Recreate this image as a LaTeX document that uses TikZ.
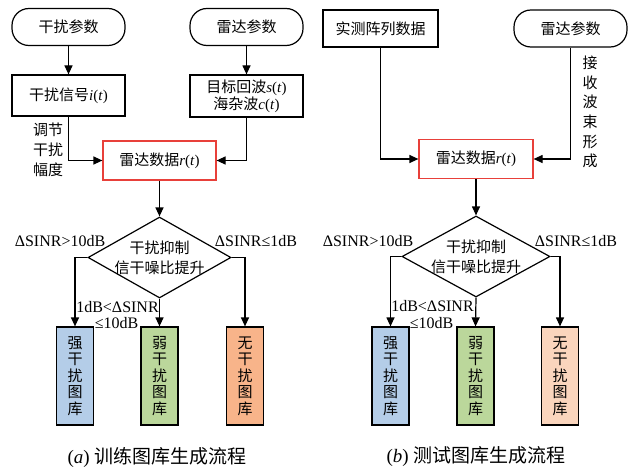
\documentclass[tikz,border=0pt]{standalone}
\usepackage{fontspec}
\setmainfont{Liberation Serif}
\newfontfamily\cjk{Noto Sans CJK SC}
\usetikzlibrary{shapes.geometric,arrows.meta}
\definecolor{cblue}{HTML}{B4CDE8}
\definecolor{cgreen}{HTML}{BBD79B}
\definecolor{corangeA}{HTML}{F8B48A}
\definecolor{corangeB}{HTML}{FAD5BD}
\definecolor{cred}{HTML}{E8403A}
\newcommand\zh[1]{{\cjk #1}}
\tikzset{
  base/.style={font=\fontsize{15}{18}\selectfont, inner sep=0pt, align=center},
  stadium/.style={base, draw, line width=1.2pt, rounded corners=17pt, minimum width=113pt, minimum height=37pt},
  plainbox/.style={base, draw, line width=1.2pt, minimum width=113pt, minimum height=40pt},
  redbox/.style={base, draw=cred, line width=1.2pt, minimum width=113pt, minimum height=39pt},
  libbox/.style={font=\fontsize{15}{16.5}\selectfont, inner sep=0pt, align=center, draw, line width=1.2pt, minimum width=37pt, minimum height=98pt},
  dia/.style={diamond, draw, line width=1.2pt, inner sep=0pt, minimum width=143pt, minimum height=81pt},
  lab/.style={font=\fontsize{15}{20}\selectfont, inner sep=0pt, align=center},
  latlab/.style={font=\fontsize{16}{20}\selectfont, inner sep=0pt, align=center},
  captext/.style={font=\fontsize{19}{22}\selectfont, inner sep=0pt},
  arr/.style={line width=1.2pt, -{Triangle[length=9pt,width=8pt]}},
  ln/.style={line width=1.2pt}
}
\begin{document}
\begin{tikzpicture}[x=1pt,y=-1pt]
\useasboundingbox (0,0) rectangle (631,468);
% ---------- (a) ----------
\node[stadium] (pa1) at (68.5,27) {\zh{干扰参数}};
\node[stadium] (pa2) at (246.5,27) {\zh{雷达参数}};
\node[plainbox, minimum height=41pt] (sa1) at (68.5,95.5) {\zh{干扰信号}\textit{i}(\textit{t})};
\node[plainbox, minimum height=42pt] (sa2) at (246.5,96) {\zh{目标回波}\textit{s}(\textit{t})\\[-1pt]\zh{海杂波}\textit{c}(\textit{t})};
\node[redbox] (ra) at (159.5,160.5) {\zh{雷达数据}\textit{r}(\textit{t})};
\node[dia] (da) at (159.5,257.5) {};
\node[lab] (dta) at (159.5,258) {\zh{干扰抑制}\\\zh{信干噪比提升}};
\node[libbox, fill=cblue] (ba) at (75,376) {\zh{强}\\\zh{干}\\\zh{扰}\\\zh{图}\\\zh{库}};
\node[libbox, fill=cgreen] (ga) at (159.5,376) {\zh{弱}\\\zh{干}\\\zh{扰}\\\zh{图}\\\zh{库}};
\node[libbox, fill=corangeA] (oa) at (245,376) {\zh{无}\\\zh{干}\\\zh{扰}\\\zh{图}\\\zh{库}};
\node[lab] (la1) at (48,150) {\zh{调节}\\\zh{干扰}\\\zh{幅度}};
\node[latlab] (la2) at (60,241) {ΔSINR>10dB};
\node[latlab] (la3) at (256,241) {ΔSINR≤1dB};
\node[latlab] (la4) at (117.5,307) {1dB<ΔSINR};
\node[latlab] (la5) at (116.5,323) {≤10dB};
\node[captext] (capa) at (157,457) {(\textit{a}) \zh{训练图库生成流程}};
\draw[arr] (pa1.south) -- (sa1.north);
\draw[arr] (pa2.south) -- (sa2.north);
\draw[arr] (sa1.south) |- (ra.west);
\draw[arr] (sa2.south) |- (ra.east);
\draw[arr] (ra.south) -- (da.north);
\draw[arr] (da.west) -| (ba.north);
\draw[arr] (da.south) -- (ga.north);
\draw[arr] (da.east) -| (oa.north);
% ---------- (b) ----------
\node[plainbox, minimum width=115pt, minimum height=37pt] (pb1) at (380.5,28.5) {\zh{实测阵列数据}};
\node[stadium] (pb2) at (570.5,28.5) {\zh{雷达参数}};
\node[redbox, minimum width=114pt] (rb) at (476,159) {\zh{雷达数据}\textit{r}(\textit{t})};
\node[dia, minimum width=148pt] (db) at (476,256.5) {};
\node[lab] (dtb) at (476,257) {\zh{干扰抑制}\\\zh{信干噪比提升}};
\node[libbox, fill=cblue] (bb) at (390.5,376) {\zh{强}\\\zh{干}\\\zh{扰}\\\zh{图}\\\zh{库}};
\node[libbox, fill=cgreen] (gb) at (475.5,376) {\zh{弱}\\\zh{干}\\\zh{扰}\\\zh{图}\\\zh{库}};
\node[libbox, fill=corangeB] (ob) at (560,376) {\zh{无}\\\zh{干}\\\zh{扰}\\\zh{图}\\\zh{库}};
\node[lab, font=\fontsize{15}{19.6}\selectfont] (lb1) at (590,112) {\zh{接}\\\zh{收}\\\zh{波}\\\zh{束}\\\zh{形}\\\zh{成}};
\node[latlab] (lb2) at (368,241) {ΔSINR>10dB};
\node[latlab] (lb3) at (576,241) {ΔSINR≤1dB};
\node[latlab] (lb4) at (432.5,306) {1dB<ΔSINR};
\node[latlab] (lb5) at (431.5,323) {≤10dB};
\node[captext] (capb) at (476,457) {(\textit{b}) \zh{测试图库生成流程}};
\draw[arr] (pb1.south) |- (rb.west);
\draw[arr] (pb2.south) |- (rb.east);
\draw[arr] (rb.south) -- (db.north);
\draw[arr] (db.west) -| (bb.north);
\draw[arr] (db.south) -- (gb.north);
\draw[arr] (db.east) -| (ob.north);
\end{tikzpicture}
\end{document}
